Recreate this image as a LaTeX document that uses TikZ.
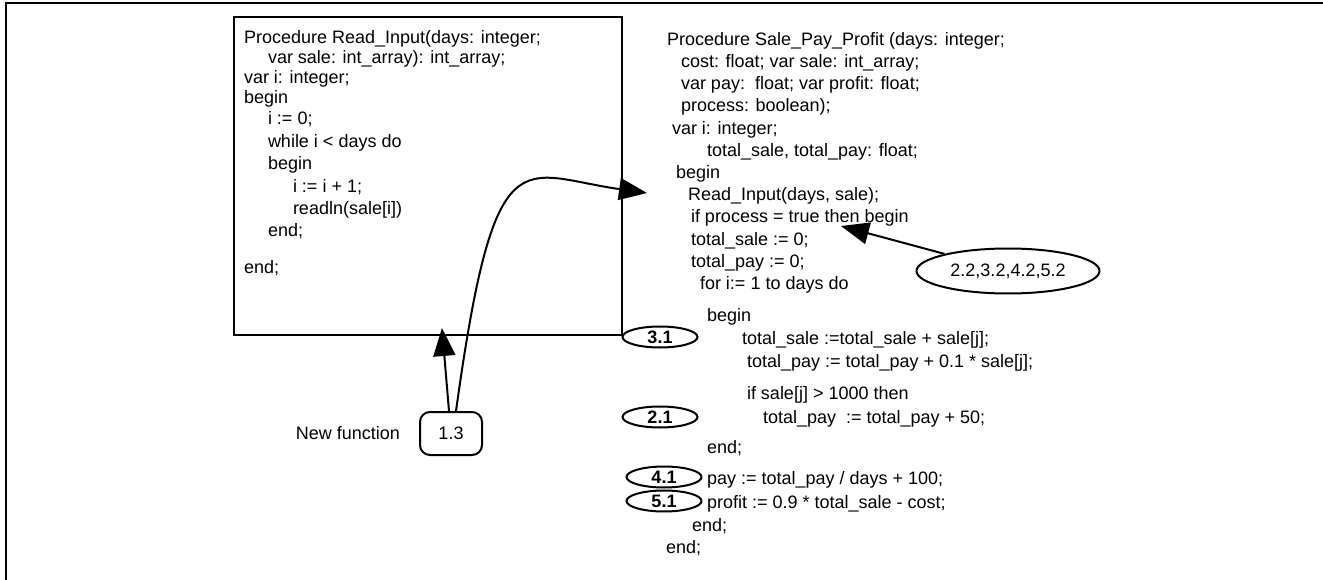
\documentclass[tikz,border=0pt]{standalone}
\usepackage{fontspec}
\setmainfont{Liberation Sans}
\usetikzlibrary{arrows.meta}
\usetikzlibrary{shapes.geometric}

\begin{document}
\begin{tikzpicture}[x=1pt, y=-1pt, line width=2pt, font=\fontsize{18}{21}\selectfont,
  code/.style={anchor=base west, inner sep=0pt},
  tag/.style={ellipse, draw, minimum width=75pt, minimum height=21pt, inner sep=0pt, font=\fontsize{18}{21}\selectfont\bfseries},
  fatarrow/.style={-{Triangle[length=28pt, width=22pt]}}]
\useasboundingbox (0,0) rectangle (1323,580);
\draw (6,580) -- (6,3) -- (1323,3);

\node [draw, minimum width=388pt, minimum height=318pt] (readbox) at (428,176) {};
\node [code] (p1) at (243,43.5) {Procedure Read\_Input(days: integer;};
\node [code] (p2) at (267,63.5) {var sale: int\_array): int\_array;};
\node [code] (p3) at (243,83.5) {var i: integer;};
\node [code] (p4) at (243,104) {begin};
\node [code] (p5) at (267,125) {i := 0;};
\node [code] (p6) at (267,148) {while i < days do};
\node [code] (p7) at (267,170) {begin};
\node [code] (p8) at (292,193) {i := i + 1;};
\node [code] (p9) at (292,215) {readln(sale[i])};
\node [code] (p10) at (267,236.5) {end;};
\node [code] (p11) at (243,273) {end;};

\node [code] (q1) at (666,46) {Procedure Sale\_Pay\_Profit (days: integer;};
\node [code] (q2) at (680,68) {cost: float; var sale: int\_array;};
\node [code] (q3) at (680,90) {var pay:\ \ float; var profit: float;};
\node [code] (q4) at (680,112) {process: boolean);};
\node [code] (q5) at (671,134.5) {var i: integer;};
\node [code] (q6) at (706,156.5) {total\_sale, total\_pay: float;};
\node [code] (q7) at (675,179) {begin};
\node [code] (q8) at (687,201) {Read\_Input(days, sale);};
\node [code] (q9) at (690,223) {if process = true then begin};
\node [code] (q10) at (690,246) {total\_sale := 0;};
\node [code] (q11) at (690,268) {total\_pay := 0;};
\node [code] (q12) at (699,290) {for i:= 1 to days do};
\node [code] (q13) at (706,321) {begin};
\node [code] (q14) at (741,344) {total\_sale :=total\_sale + sale[j];};
\node [code] (q15) at (746,367) {total\_pay := total\_pay + 0.1 * sale[j];};
\node [code] (q16) at (746,399) {if sale[j] > 1000 then};
\node [code] (q17) at (762,423) {total\_pay\ \ := total\_pay + 50;};
\node [code] (q18) at (706,453) {end;};
\node [code] (q19) at (706,484) {pay := total\_pay / days + 100;};
\node [code] (q20) at (706,508) {profit := 0.9 * total\_sale - cost;};
\node [code] (q21) at (691,531) {end;};
\node [code] (q22) at (665,553) {end;};

\node [tag] (t31) at (660,337) {3.1};
\node [tag] (t21) at (660,417) {2.1};
\node [tag] (t41) at (664,477) {4.1};
\node [tag] (t51) at (664,501) {5.1};
\node [ellipse, draw, minimum width=183pt, minimum height=45pt, inner sep=0pt] (uses) at (1008,271) {2.2,3.2,4.2,5.2};

\node [draw, rounded corners=10pt, minimum width=62pt, minimum height=43pt] (n13) at (451,433.5) {1.3};
\node (newfn) at (348,433) {New function};

\coordinate (callTip) at (647,193);
\coordinate (boxTip) at (442,328);
\coordinate (ifTip) at (841,226);

\draw [fatarrow] ([xshift=5pt]n13.north) .. controls (495,130) and (520,175) .. (callTip);
\draw [fatarrow] ([xshift=-2pt]n13.north) -- (boxTip);
\draw [fatarrow] (uses) -- (ifTip);
\end{tikzpicture}
\end{document}
